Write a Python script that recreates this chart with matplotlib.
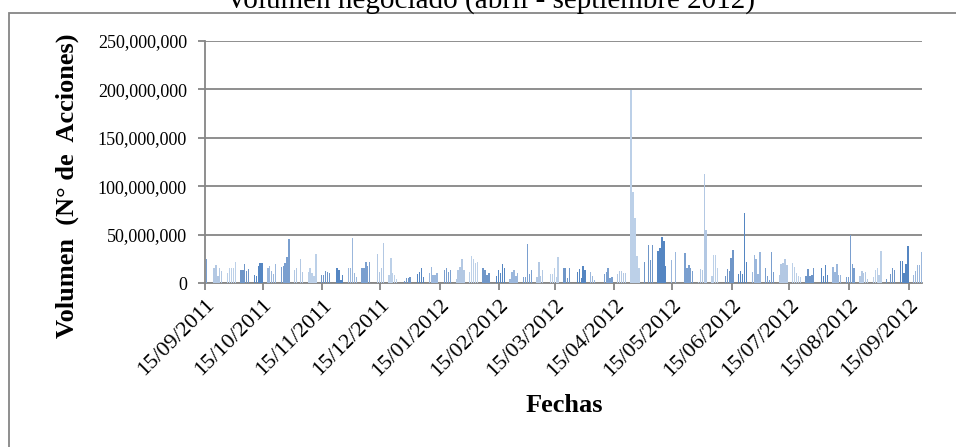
import numpy as np
import pandas as pd
import matplotlib
matplotlib.use("Agg")
import matplotlib.pyplot as plt
import matplotlib.dates as mdates
from matplotlib.ticker import FuncFormatter
from matplotlib.patches import Rectangle

plt.rcParams['font.family'] = ['Liberation Serif', 'DejaVu Serif']

# volumen diario (millones de acciones), dias habiles desde 15/09/2011
vol_sep_dic_2011 = [
    25, 0,
    15, 19, 7, 16, 12,
    10, 15, 15, 15, 22,
    13, 13, 20, 12, 14,
    8, 7, 18, 21, 21,
    15, 18, 12, 9, 20,
    17, 18, 21, 27, 45,
    13, 16, 0, 25, 11,
    11, 15, 10, 7, 30,
    8, 8, 12, 11, 10,
    0, 15, 13, 3, 8,
    15, 16, 46, 10, 6,
    15, 16, 22, 18, 22,
    0, 30, 11, 15, 41,
    8, 26, 10, 8, 4,
    0, 2, 5, 5, 6,
]
vol_ene_abr_2012 = [
    0, 9, 11, 15, 6,
    10, 17, 8, 8, 10,
    0, 13, 15, 11, 13,
    4, 13, 17, 25, 13,
    11, 28, 25, 21, 22,
    15, 13, 8, 10, 0,
    7, 13, 10, 20, 15,
    4, 11, 13, 7, 10,
    6, 6, 40, 9, 13,
    6, 22, 7, 13, 0,
    9, 9, 15, 6, 27,
    15, 15, 5, 16, 0,
    11, 14, 5, 18, 13,
    11, 7, 3, 0, 0,
    9, 11, 16, 5, 6,
    9, 12, 12, 10, 10,
    199, 94, 67, 28, 15,
]
vol_may_sep_2012 = [
    22, 0, 39, 24, 39,
    33, 36, 48, 43, 18,
    24, 0, 32, 0, 0,
    31, 16, 19, 16, 12,
    1, 14, 13, 113, 55,
    7, 29, 29, 16, 0,
    7, 14, 12, 26, 34,
    9, 12, 9, 72, 22,
    11, 29, 25, 9, 32,
    15, 7, 3, 32, 11,
    8, 20, 21, 25, 19,
    21, 17, 10, 7, 6,
    7, 14, 7, 8, 16,
    0, 16, 7, 19, 8,
    17, 11, 20, 8, 8,
    6, 6, 50, 20, 16,
    7, 12, 10, 11, 4,
    6, 13, 15, 8, 33,
    4, 0, 9, 16, 13,
    23, 23, 10, 20, 38,
    8, 12, 19, 19, 32,
]

volumen = np.array(vol_sep_dic_2011 + vol_ene_abr_2012 + vol_may_sep_2012) * 1e6
fechas = pd.bdate_range('2011-09-15', periods=len(volumen))
tick_fechas = pd.date_range('2011-09-01', '2012-09-15', freq='MS') + pd.Timedelta(days=14)

paleta = ['#7a9fcf', '#b3c8e3', '#bcd0e8', '#6f96c8', '#5586c2', '#9bb7dc']
semana = np.array([(d - pd.Timestamp('2011-09-12')).days // 7 for d in fechas])
colores = [paleta[s % len(paleta)] for s in semana]

fig = plt.figure(figsize=(9.56, 4.47), dpi=100)
ax = fig.add_axes([205 / 956, 1 - 283 / 447, 717 / 956, 242 / 447])

x = mdates.date2num(fechas) + 0.7
ax.bar(x, volumen, width=0.7, color=colores, linewidth=0, zorder=3)

ax.set_xlim(mdates.date2num(pd.Timestamp('2011-09-15')),
            mdates.date2num(pd.Timestamp('2012-09-22')))
ax.set_ylim(0, 250e6)
ax.set_yticks(np.arange(0, 250e6 + 1, 50e6))
ax.yaxis.set_major_formatter(FuncFormatter(lambda v, p: '{:,.0f}'.format(v)))
ax.set_xticks(mdates.date2num(tick_fechas))
ax.set_xticklabels([d.strftime('%d/%m/%Y') for d in tick_fechas],
                   rotation=45, ha='right', rotation_mode='anchor')

gris = '#868686'
ax.grid(axis='y', color=gris, linewidth=1.3, zorder=1)
for s in ['top', 'right']:
    ax.spines[s].set_visible(False)
for s in ['left', 'bottom']:
    ax.spines[s].set_color(gris)
    ax.spines[s].set_linewidth(1.3)
ax.tick_params(axis='both', color=gris, width=1.3, length=5)
ax.tick_params(axis='y', pad=8, labelsize=13)
ax.tick_params(axis='x', pad=4, labelsize=16)

fig.text(491 / 956, 1 - 8 / 447, 'Volumen negociado (abril - septiembre 2012)',
         ha='center', va='baseline', fontsize=21)
fig.text(67 / 956, 1 - 186 / 447, 'Volumen  (N° de  Acciones)', rotation=90,
         ha='center', va='center', fontsize=19, fontweight='bold')
fig.text(564 / 956, 1 - 405 / 447, 'Fechas', ha='center', va='center',
         fontsize=19, fontweight='bold')

fig.patches.append(Rectangle((9 / 956, -0.05), 1.2, 1 - 12.7 / 447 + 0.05,
                             transform=fig.transFigure, fill=False,
                             edgecolor=gris, linewidth=1.3))

fig.savefig('out.png', dpi=100)
